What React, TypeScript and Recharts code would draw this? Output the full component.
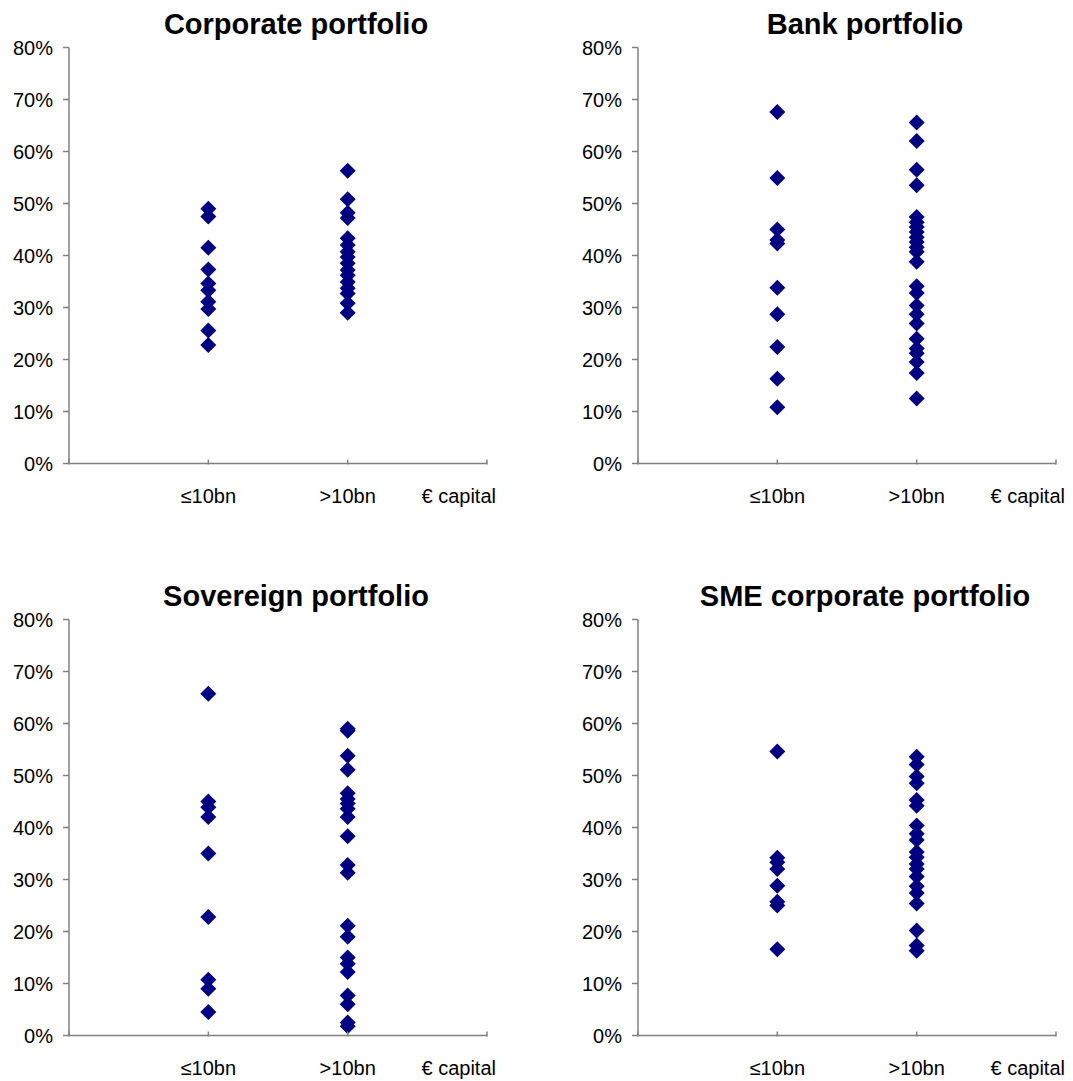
import React from 'react';
import { ScatterChart, Scatter, XAxis, YAxis } from 'recharts';

// capital-size groups on the x axis
const categories = ['≤10bn', '>10bn'];
const xTickLabels = ['', '≤10bn', '>10bn', '€ capital'];
const yTicks = [0, 10, 20, 30, 40, 50, 60, 70, 80];

// values in %
const corporateSmall = [49.0, 47.5, 41.5, 37.3, 34.6, 33.3, 31.1, 29.7, 25.6, 22.8];
const corporateLarge = [56.3, 50.8, 48.2, 47.2, 43.3, 42.0, 40.7, 39.7, 38.5, 37.2, 36.2, 34.9, 33.7, 32.7, 30.8, 29.0];

const bankSmall = [67.6, 54.9, 45.0, 43.0, 42.3, 33.8, 28.7, 22.4, 16.3, 10.8];
const bankLarge = [65.6, 62.0, 56.5, 53.5, 47.4, 46.4, 45.5, 44.5, 43.5, 42.6, 41.6, 40.7, 38.8, 34.1, 32.8, 30.4, 28.7, 26.9, 24.0, 22.1, 21.2, 19.5, 17.4, 12.5];

const sovereignSmall = [65.7, 45.0, 43.9, 42.0, 35.0, 22.8, 10.7, 9.0, 4.5];
const sovereignLarge = [59.0, 58.6, 53.8, 51.1, 46.6, 45.5, 44.6, 43.6, 42.0, 38.3, 32.8, 31.3, 21.1, 19.0, 15.0, 13.8, 12.2, 7.7, 6.0, 2.5, 1.8];

const smeSmall = [54.6, 34.2, 33.3, 32.0, 28.8, 25.7, 25.0, 16.6];
const smeLarge = [53.6, 52.1, 49.8, 48.5, 45.3, 44.2, 40.4, 38.8, 37.6, 35.3, 34.3, 33.0, 32.0, 30.6, 28.7, 27.4, 25.4, 20.2, 17.3, 16.3];

const FONT = 'Arial, "Liberation Sans", sans-serif';
const NAVY = '#000080';
const AXIS = '#808080';

const toPoints = (small: number[], large: number[]) => [
  ...small.map((y) => ({ x: 1, y, group: categories[0] })),
  ...large.map((y) => ({ x: 2, y, group: categories[1] })),
];

const Diamond = (props: any) => {
  const { cx, cy } = props;
  if (cx == null || cy == null) return null;
  const r = 8;
  return (
    <polygon
      points={`${cx},${cy - r} ${cx + r},${cy} ${cx},${cy + r} ${cx - r},${cy}`}
      fill={NAVY}
    />
  );
};

const XTick = (props: any) => {
  const { x, y, payload } = props;
  const label = xTickLabels[payload.value] ?? '';
  const isLast = payload.value === 3;
  return (
    <g>
      <line x1={x} x2={x} y1={y - 4} y2={y + 1} stroke={AXIS} strokeWidth={1.5} />
      <text
        x={isLast ? x + 9 : x}
        y={y + 39}
        textAnchor={isLast ? 'end' : 'middle'}
        fontSize={20}
        fontFamily={FONT}
        fill="#000"
      >
        {label}
      </text>
    </g>
  );
};

interface PanelProps {
  title: string;
  small: number[];
  large: number[];
  left: number;
  top: number;
}

function Panel({ title, small, large, left, top }: PanelProps) {
  const data = toPoints(small, large);
  return (
    <div style={{ position: 'absolute', left, top, width: 540, height: 520 }}>
      <div
        style={{
          position: 'absolute',
          left: 0,
          width: 592,
          top: 7,
          textAlign: 'center',
          fontFamily: FONT,
          fontWeight: 'bold',
          fontSize: 29,
          lineHeight: '34px',
          color: '#000',
        }}
      >
        {title}
      </div>
      <ScatterChart width={540} height={520} margin={{ top: 47.5, right: 53, bottom: 6.5, left: 0 }}>
        <XAxis
          type="number"
          dataKey="x"
          domain={[0, 3]}
          ticks={[0, 1, 2, 3]}
          interval={0}
          height={50}
          tickSize={0}
          tickMargin={0}
          tick={<XTick />}
          axisLine={{ stroke: AXIS, strokeWidth: 1.5 }}
        />
        <YAxis
          type="number"
          dataKey="y"
          domain={[0, 80]}
          ticks={yTicks}
          interval={0}
          width={69}
          tickSize={6}
          tickMargin={10}
          tickFormatter={(v: number) => `${v}%`}
          tick={{ fontSize: 20, fontFamily: FONT, fill: '#000' }}
          tickLine={{ stroke: AXIS, strokeWidth: 1.5 }}
          axisLine={{ stroke: AXIS, strokeWidth: 1.5 }}
        />
        <Scatter data={data} shape={<Diamond />} isAnimationActive={false} />
      </ScatterChart>
    </div>
  );
}

export default function App() {
  return (
    <div style={{ position: 'absolute', left: 0, top: 0, width: 1073, height: 1081, background: '#fff' }}>
      <Panel title="Corporate portfolio" small={corporateSmall} large={corporateLarge} left={0} top={0} />
      <Panel title="Bank portfolio" small={bankSmall} large={bankLarge} left={569} top={0} />
      <Panel title="Sovereign portfolio" small={sovereignSmall} large={sovereignLarge} left={0} top={571.5} />
      <Panel title="SME corporate portfolio" small={smeSmall} large={smeLarge} left={569} top={571.5} />
    </div>
  );
}
